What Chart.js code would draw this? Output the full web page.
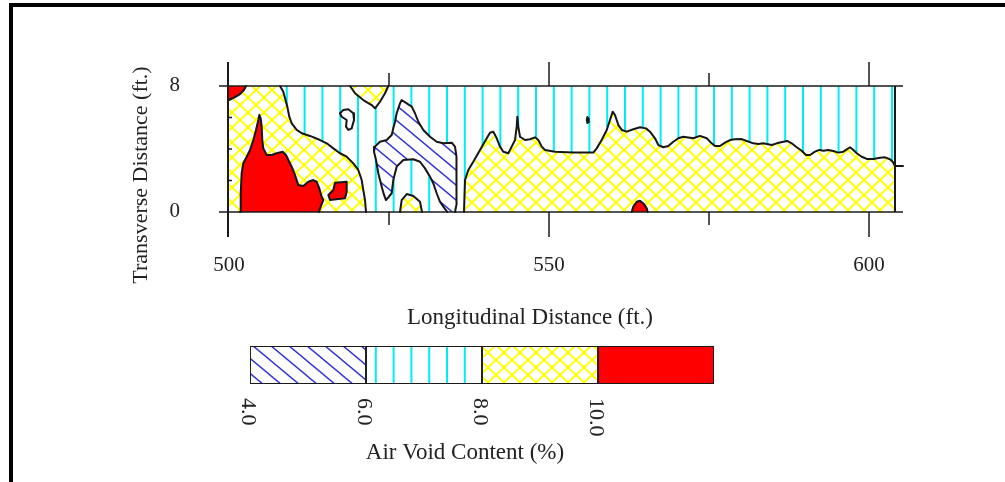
<!DOCTYPE html>
<html>
<head>
<meta charset="utf-8">
<title>Air Void Content Contour Map</title>
<script src="https://cdn.jsdelivr.net/npm/chart.js@4.4.1/dist/chart.umd.min.js"></script>
<style>
  html, body { margin: 0; padding: 0; background: #ffffff; }
  #wrap { position: relative; width: 1005px; height: 482px; overflow: hidden; background: #ffffff; }
  #wrap canvas { position: absolute; left: 0; top: 0; }
  #frame { position: absolute; left: 9px; top: 3px; width: 1000px; height: 482px;
           border-top: 4px solid #000; border-left: 4px solid #000; box-sizing: border-box; }
</style>
</head>
<body>
<div id="wrap">
  <canvas id="mapa" width="1005" height="482"></canvas>
  <canvas id="escala" width="1005" height="482"></canvas>
  <div id="frame"></div>
</div>
<script>
// ---- Survey extent (ft) and axis ticks ----
const xRange = [500, 604.06];
const yRange = [0, 8];
const xTicks = [500, 550, 600];
const xMinorTicks = [525, 575];
const yTicks = [0, 8];
const yMinorTicks = [2, 4, 6];

// ---- Air void classes (%) for the colour scale ----
const legendBreaks = [4, 6, 8, 10, 12];
const legendTickValues = [4, 6, 8, 10];

// ---- Contour boundaries, [longitudinal ft, transverse ft] ----
// 8-10 % zone along the west end
const yellowWest = [[507.97,8],[508.48,7.64],[509.11,6.69],[509.42,6.05],[509.80,5.63],[510.58,5.21],
  [511.36,5.00],[512.66,4.83],[514.22,4.57],[515.27,4.36],[516.30,4.04],[517.34,3.73],[518.39,3.51],
  [519.42,3.09],[520.20,2.67],[520.73,2.03],[520.98,1.40],[521.25,0.76],[521.41,0]];
// 8-10 % notch on the far edge
const yellowNotch = [[518.91,8],[519.69,7.54],[520.98,7.11],[522.30,6.79],[522.81,6.58],[523.59,7.00],
  [524.38,7.54],[524.89,8]];
// 8-10 % pocket under the low-void arch
const yellowArch = [[526.72,0],[526.98,0.76],[527.77,1.14],[528.80,1.02],[529.84,0.65],[530.16,0]];
// 8-10 % band along the near edge, east part
const yellowEast = [[536.72,0],[536.88,2.03],[537.39,2.67],[538.17,3.19],[539.22,3.94],[540.27,4.68],
  [540.78,5.03],[541.30,5.10],[541.83,4.68],[542.34,4.15],[542.86,3.83],[543.64,3.73],[544.17,4.15],
  [544.69,4.57],[544.95,5.42],[545.05,6.05],[545.20,5.42],[545.47,4.78],[546.25,4.57],[547.03,4.62],
  [547.81,4.74],[548.33,4.57],[548.86,4.15],[549.38,3.94],[550.94,3.83],[553.80,3.77],[556.92,3.77],
  [557.45,4.04],[558.23,4.57],[559.02,5.21],[559.53,5.84],[559.95,6.37],[560.31,6.16],[560.83,5.52],
  [561.36,5.21],[562.14,5.10],[563.17,5.25],[564.22,5.38],[565.16,5.31],[565.78,5.10],[566.56,4.68],
  [567.08,4.25],[567.86,4.11],[568.64,4.19],[569.42,4.46],[570.20,4.68],[570.98,4.78],[572.55,4.68],
  [573.59,4.83],[574.64,4.68],[575.42,4.36],[575.94,4.19],[576.72,4.19],[577.50,4.40],[578.28,4.57],
  [579.06,4.62],[580.11,4.63],[580.89,4.51],[581.92,4.36],[582.70,4.32],[583.48,4.36],[584.02,4.32],
  [584.80,4.25],[585.58,4.36],[586.61,4.46],[587.23,4.51],[587.92,4.36],[588.70,4.11],[589.48,3.89],
  [590.16,3.62],[590.78,3.62],[591.56,3.83],[592.23,3.94],[592.86,3.89],[593.64,3.94],[594.42,3.87],
  [595.20,3.77],[595.98,3.83],[596.52,3.98],[597.03,4.11],[597.55,3.94],[598.08,3.73],[598.86,3.51],
  [599.64,3.37],[600.67,3.37],[601.72,3.45],[602.50,3.47],[603.28,3.35],[603.70,3.19],[604.06,2.92]];
const eastExit = [[604.06,2.92],[605.31,2.92]];
// above 10 %
const redCorner = [[502.66,8],[502.34,7.75],[501.72,7.49],[500.94,7.30],[500,7.11]];
const redWest = [[501.72,0],[501.83,1.19],[501.98,2.46],[502.23,3.09],[502.77,3.51],[503.28,3.94],
  [503.80,4.57],[504.22,5.21],[504.58,5.84],[504.73,6.16],[504.95,5.95],[505.11,5.42],[505.20,4.57],
  [505.36,4.04],[505.89,3.62],[506.67,3.62],[507.45,3.73],[508.39,3.83],[508.91,3.62],[509.27,3.30],
  [509.80,2.88],[510.31,2.35],[510.83,1.71],[511.61,1.65],[512.39,1.92],[513.17,2.03],[513.70,1.92],
  [514.11,1.50],[514.48,0.97],[514.73,0.76],[514.33,0.34],[514.06,0]];
const redBlob = [[518.39,1.92],[516.56,1.86],[516.30,1.40],[515.52,1.08],[515.78,0.76],[518.13,0.87],
  [518.39,1.29],[518.39,1.92]];
const redBump = [[562.92,0],[563.17,0.34],[563.70,0.65],[564.22,0.72],[564.84,0.51],[565.27,0.23],[565.42,0]];
// 4-6 % arch
const blueCore = [[535.31,0],[535.58,0.55],[535.58,1.40],[535.47,2.46],[535.58,3.51],[535.31,4.15],
  [534.80,4.40],[533.48,4.36],[532.45,4.46],[531.41,4.78],[530.36,5.21],[529.58,5.73],[529.06,6.27],
  [528.55,6.69],[527.77,6.90],[526.98,7.11],[526.72,6.90],[526.20,6.27],[525.94,5.73],[525.67,5.31],
  [525.42,4.89],[524.64,4.57],[523.59,4.46],[522.81,4.15],[522.66,3.83],[522.97,3.30],[523.33,2.46],
  [523.86,1.61],[524.22,1.08],[524.53,0.76],[525.42,1.19],[525.67,2.03],[526.20,2.88],[527.23,3.30],
  [528.80,3.35],[529.84,3.19],[530.63,2.77],[531.41,2.24],[531.92,1.82],[532.45,1.19],[532.97,0.65],
  [533.48,0.34],[534.11,0]];
// small closed contours inside the 6-8 % zone
const islandA = [[517.86,6.48],[518.64,6.52],[519.42,6.27],[519.53,5.84],[519.17,5.31],[518.64,5.21],
  [518.28,5.42],[518.39,5.84],[517.61,6.05],[517.34,6.27],[517.86,6.48]];
const islandB = [[556.0,6.03],[556.2,5.9],[556.2,5.7],[556.0,5.65],[555.9,5.85],[556.0,6.03]];

// ---- Styling ----
const SERIF = "'Liberation Serif', 'Times New Roman', serif";
const INK = '#222222';
const mainCanvas = document.getElementById('mapa');
const mainCtx = mainCanvas.getContext('2d');

function makePattern(w, h, paint) {
  const c = document.createElement('canvas');
  c.width = w; c.height = h;
  const g = c.getContext('2d');
  g.fillStyle = '#ffffff';
  g.fillRect(0, 0, w, h);
  paint(g, w, h);
  return mainCtx.createPattern(c, 'repeat');
}

// 6-8 %: vertical cyan rules
const cyanHatch = makePattern(89, 4, (g, w, h) => {
  g.fillStyle = '#00eef2';
  for (let k = 0; k < 5; k++) g.fillRect(1 + k * 17.8, 0, 2, h);
});
// 8-10 %: yellow diamond cross-hatch
const yellowCross = makePattern(16, 15, (g, w, h) => {
  g.strokeStyle = '#ffff00';
  g.lineWidth = 2;
  for (const k of [-1, 0, 1]) {
    g.beginPath(); g.moveTo(k * w - w, -h); g.lineTo(k * w + 2 * w, 2 * h); g.stroke();
    g.beginPath(); g.moveTo(k * w + 2 * w, -h); g.lineTo(k * w - w, 2 * h); g.stroke();
  }
});
// 4-6 %: blue diagonal hatch
const blueHatch = makePattern(18, 15, (g, w, h) => {
  g.strokeStyle = '#3030d8';
  g.lineWidth = 1.4;
  for (const k of [-1, 0, 1]) {
    g.beginPath(); g.moveTo(k * w - w, -h); g.lineTo(k * w + 2 * w, 2 * h); g.stroke();
  }
});
const redFill = '#ff0000';
const classFills = [blueHatch, cyanHatch, yellowCross, redFill];

// ---- Build datasets ----
const [X0, X1] = xRange;
const [Y0, Y1] = yRange;
const toXY = pts => pts.map(([x, y]) => ({ x, y }));

const fillLayers = [
  { pts: [[X0, Y0], [X0, Y1], [X1, Y1], [X1, Y0]], fill: cyanHatch },
  { pts: yellowWest.concat([[X0, Y0], [X0, Y1]]), fill: yellowCross },
  { pts: yellowNotch, fill: yellowCross },
  { pts: yellowArch, fill: yellowCross },
  { pts: yellowEast.concat([[X1, Y0]]), fill: yellowCross },
  { pts: redCorner.concat([[X0, Y1]]), fill: redFill },
  { pts: redWest, fill: redFill },
  { pts: redBlob, fill: redFill },
  { pts: redBump, fill: redFill },
  { pts: blueCore, fill: blueHatch }
];
const contourLines = [yellowWest, yellowNotch, yellowArch, yellowEast, eastExit, redCorner, redWest,
  redBlob, redBump, blueCore, islandA, islandB];

const datasets = [];
const totalLayers = fillLayers.length + contourLines.length;
let drawIndex = 0;
for (const layer of fillLayers) {
  datasets.push({
    data: toXY(layer.pts), showLine: true, fill: 'shape',
    backgroundColor: layer.fill, borderColor: 'rgba(0,0,0,0)', borderWidth: 0,
    pointRadius: 0, pointHoverRadius: 0, order: totalLayers - drawIndex++
  });
}
for (const line of contourLines) {
  datasets.push({
    data: toXY(line), showLine: true, fill: false,
    borderColor: '#161616', borderWidth: 2, borderJoinStyle: 'round', borderCapStyle: 'round',
    pointRadius: 0, pointHoverRadius: 0, clip: 10, order: totalLayers - drawIndex++
  });
}

// ---- Axis frame, ticks and titles ----
const framePlugin = {
  id: 'frame',
  afterDatasetsDraw(chart) {
    const { ctx, scales: { x, y } } = chart;
    const left = x.getPixelForValue(X0), right = x.getPixelForValue(X1);
    const top = y.getPixelForValue(Y1), bottom = y.getPixelForValue(Y0);
    const seg = (x1, y1, x2, y2) => { ctx.beginPath(); ctx.moveTo(x1, y1); ctx.lineTo(x2, y2); ctx.stroke(); };
    ctx.save();
    ctx.strokeStyle = '#1a1a1a';
    ctx.lineWidth = 1.5;
    seg(left - 10, top, right + 8, top);
    seg(left - 10, bottom, right + 8, bottom);
    ctx.lineWidth = 2;
    seg(left - 1, top - 24, left - 1, bottom + 25);
    seg(right, top, right, bottom);
    ctx.lineWidth = 1.5;
    for (const v of xTicks) {
      if (v === X0) continue;
      const px = x.getPixelForValue(v);
      seg(px, top - 24, px, top);
      seg(px, bottom, px, bottom + 25);
    }
    for (const v of xMinorTicks) {
      const px = x.getPixelForValue(v);
      seg(px, top - 13, px, top);
      seg(px, bottom, px, bottom + 13);
    }
    for (const v of yMinorTicks) {
      const py = y.getPixelForValue(v);
      seg(left - 1, py, left + 3, py);
    }
    ctx.restore();
  },
  afterDraw(chart) {
    const { ctx } = chart;
    ctx.save();
    ctx.fillStyle = INK;
    ctx.font = `23px ${SERIF}`;
    ctx.textAlign = 'center';
    ctx.textBaseline = 'alphabetic';
    ctx.fillText('Longitudinal Distance (ft.)', 530, 324);
    ctx.translate(147, 175);
    ctx.rotate(-Math.PI / 2);
    ctx.font = `22px ${SERIF}`;
    ctx.fillText('Transverse Distance (ft.)', 0, 0);
    ctx.restore();
  }
};

const tickFont = { family: SERIF, size: 21 };

new Chart(mainCanvas, {
  type: 'scatter',
  data: { datasets },
  options: {
    responsive: false,
    animation: false,
    events: [],
    layout: { padding: { left: 129, top: 86, right: 110, bottom: 210 } },
    plugins: { legend: { display: false }, tooltip: { enabled: false } },
    scales: {
      x: {
        type: 'linear', min: X0, max: X1,
        afterFit: s => { s.height = 60; },
        afterBuildTicks: s => { s.ticks = xTicks.map(v => ({ value: v })); },
        grid: { display: false, drawTicks: false },
        border: { display: false },
        ticks: { padding: 41, font: tickFont, color: INK, maxRotation: 0, minRotation: 0, autoSkip: false,
                 callback: v => String(v) }
      },
      y: {
        type: 'linear', min: Y0, max: Y1,
        afterFit: s => { s.width = 100; },
        afterBuildTicks: s => { s.ticks = yTicks.map(v => ({ value: v })); },
        grid: { display: false, drawTicks: false },
        border: { display: false },
        ticks: { padding: 49, labelOffset: -1, font: tickFont, color: INK, autoSkip: false,
                 callback: v => String(v) }
      }
    }
  },
  plugins: [framePlugin]
});

// ---- Colour scale bar ----
const scaleTextPlugin = {
  id: 'scaleText',
  afterDraw(chart) {
    const { ctx, scales: { x } } = chart;
    ctx.save();
    ctx.fillStyle = INK;
    ctx.font = `22px ${SERIF}`;
    ctx.textAlign = 'left';
    ctx.textBaseline = 'middle';
    for (const v of legendTickValues) {
      ctx.save();
      ctx.translate(x.getPixelForValue(v) - 2, 398);
      ctx.rotate(Math.PI / 2);
      ctx.fillText(v.toFixed(1), 0, 0);
      ctx.restore();
    }
    ctx.textAlign = 'center';
    ctx.textBaseline = 'alphabetic';
    ctx.font = `23px ${SERIF}`;
    ctx.fillText('Air Void Content (%)', 465, 459);
    ctx.restore();
  }
};

new Chart(document.getElementById('escala'), {
  type: 'bar',
  data: {
    labels: [''],
    datasets: classFills.map((fill, i) => ({
      data: [[legendBreaks[i], legendBreaks[i + 1]]],
      backgroundColor: fill,
      borderColor: '#1a1a1a',
      borderWidth: 1.3,
      borderSkipped: false,
      grouped: false,
      barPercentage: 1,
      categoryPercentage: 1
    }))
  },
  options: {
    indexAxis: 'y',
    responsive: false,
    animation: false,
    events: [],
    layout: { padding: { left: 250, right: 291, top: 346, bottom: 98 } },
    plugins: { legend: { display: false }, tooltip: { enabled: false } },
    scales: {
      x: { type: 'linear', min: legendBreaks[0], max: legendBreaks[legendBreaks.length - 1], display: false },
      y: { display: false }
    }
  },
  plugins: [scaleTextPlugin]
});
</script>
</body>
</html>
